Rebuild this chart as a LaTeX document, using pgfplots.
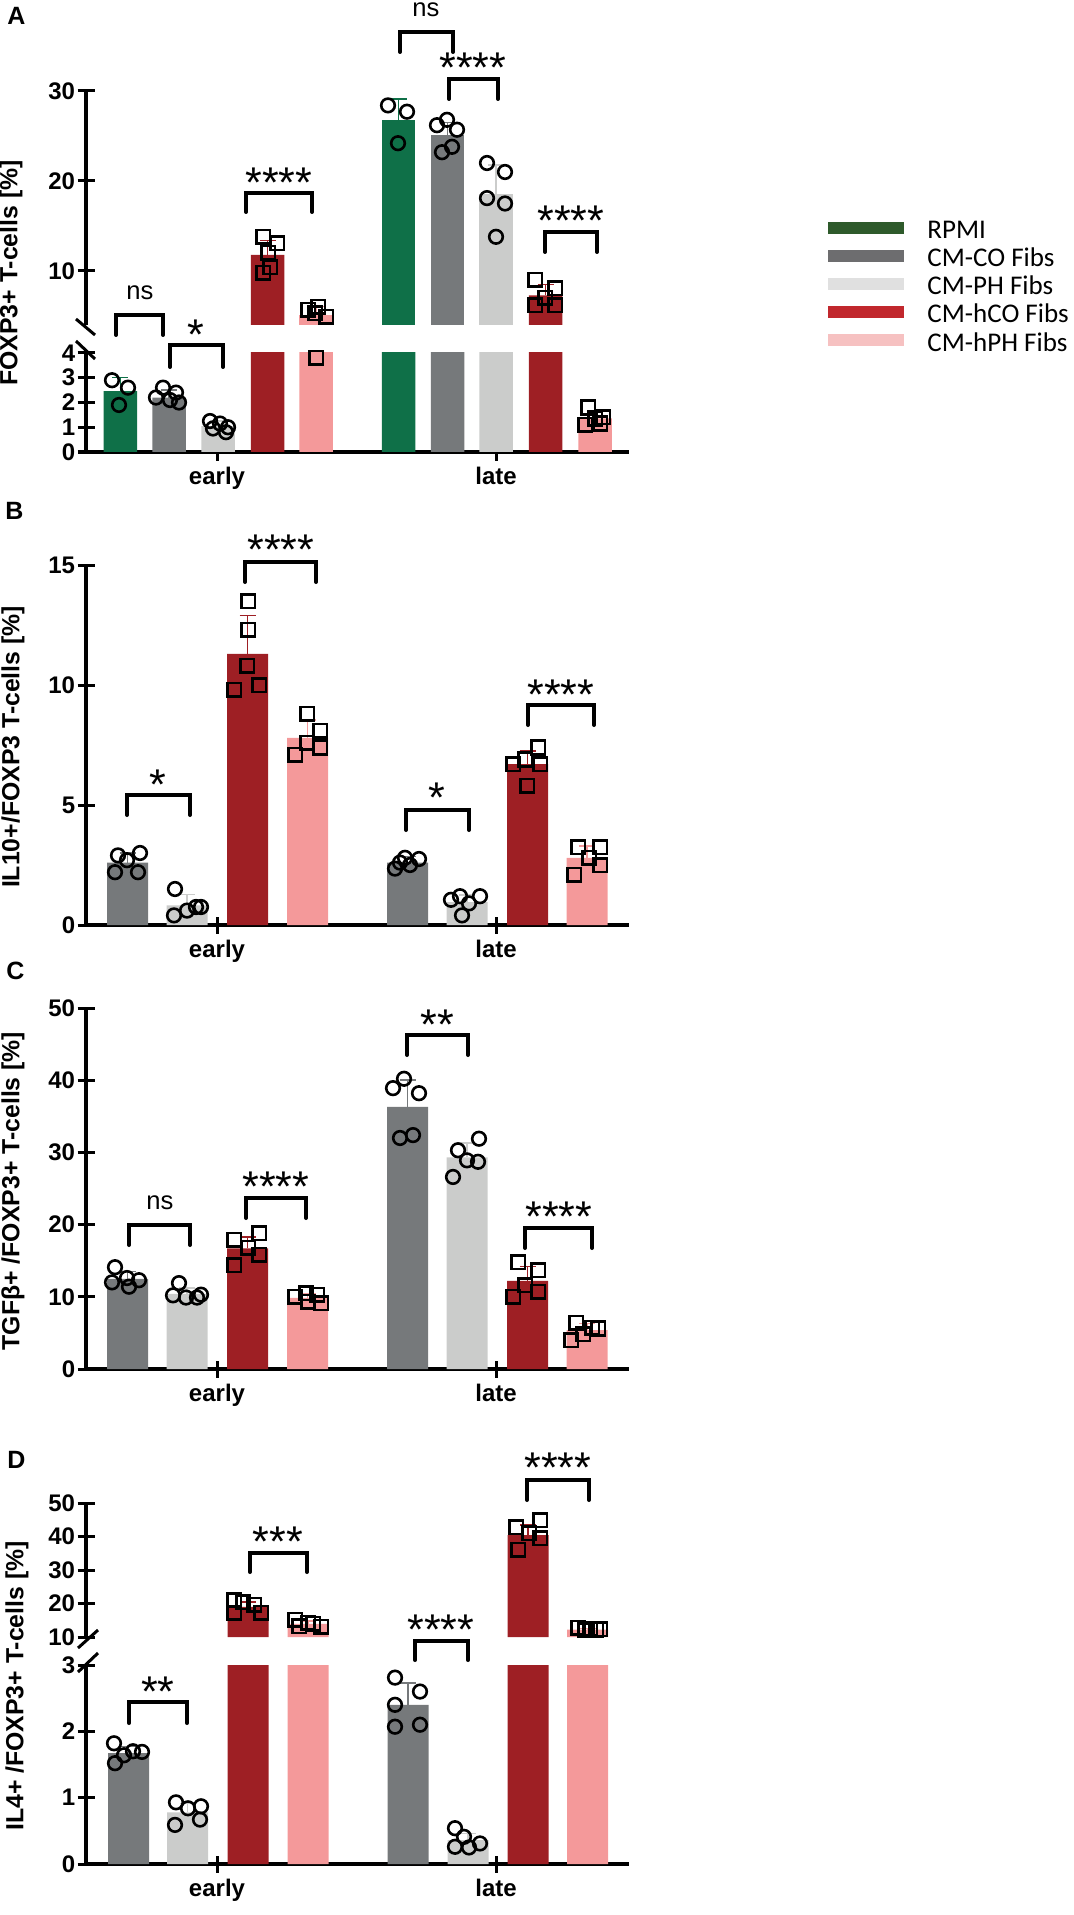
\documentclass[border=0pt]{standalone}
\usepackage{pgfplots}
\pgfplotsset{compat=1.18}
\usepackage{fontspec}
\setmainfont{Liberation Sans}
\newfontfamily\legfont{Carlito}

\definecolor{cG}{HTML}{0F7048}
\definecolor{cCO}{HTML}{76797B}
\definecolor{cPH}{HTML}{CBCCCB}
\definecolor{cHC}{HTML}{9E1F24}
\definecolor{cHP}{HTML}{F4999A}
\definecolor{lG}{HTML}{2E5A2B}
\definecolor{lCO}{HTML}{6D6D6F}
\definecolor{lPH}{HTML}{E0E0E0}
\definecolor{lHC}{HTML}{C1272D}
\definecolor{lHP}{HTML}{F6C1C1}

\pgfplotsset{
 base/.style={scale only axis, width=271.5pt, xmin=86, xmax=629, enlargelimits=false,
   tick align=outside, major tick length=8.5pt,
   every tick/.style={line width=1.5pt, black},
   tick label style={font=\bfseries\fontsize{12}{14}\selectfont},
   /pgf/number format/assume math mode=true,
   yticklabel style={inner sep=1pt},
 },
 nolinearrows/.style={
   axis line style={line width=1.75pt},
   every outer x axis line/.append style={-},
   every outer y axis line/.append style={-},
   every inner x axis line/.append style={-},
   every inner y axis line/.append style={-},
   x axis line style={-}, y axis line style={-},
 },
 upper/.style={base, axis y line=left, axis x line=none, xtick=\empty, nolinearrows},
 lower/.style={base, axis y line=left, axis x line=bottom, xtick={217,496}, xticklabels={early,late}, nolinearrows},
 bar/.style={ybar, bar shift=0pt, draw=none, fill=#1},
 errb/.style={/pgfplots/error bars/y dir=plus, /pgfplots/error bars/y explicit,
   /pgfplots/error bars/error bar style={line width=0.75pt,color=#1},
   /pgfplots/error bars/error mark options={rotate=90, mark size=4pt, line width=0.75pt, color=#1}},
 circ/.style={black, only marks, mark=o, mark size=3.4pt, mark options={line width=1.3pt, draw=black}},
 sq/.style={black, only marks, mark=square, mark size=3.4pt, mark options={line width=1.3pt, draw=black}},
}

\newcommand{\brk}[4]{\draw[line width=2pt, line cap=round] (#1,#4) -- (#1,#3) -- (#2,#3) -- (#2,#4);}
\newcommand{\st}[3]{\node[font=\fontsize{21.5}{22}\selectfont, anchor=base, inner sep=0] at (#1,{#2+24.7}) {#3};}
\newcommand{\ns}[2]{\node[font=\fontsize{12.8}{14}\selectfont, anchor=base, inner sep=0] at (#1,{#2+6.7}) {ns};}

\begin{document}
\begin{tikzpicture}
\path[use as bounding box] (0pt,0pt) rectangle (536.5pt,-957.5pt);

% ---------------- Panel A upper (only values above the break)
\begin{axis}[upper, at={(43pt,-162.5pt)}, height=117pt, ymin=4, ymax=30, ytick={10,20,30}, bar width=33.5]
\addplot[bar=cG, errb=cG] coordinates {(398.5,26.8) +- (0,2.3)};
\addplot[bar=cCO, errb=cCO] coordinates {(447.5,25.1) +- (0,1.4)};
\addplot[bar=cPH, errb=cPH] coordinates {(496,18.6) +- (0,3.2)};
\addplot[bar=cHC, errb=cHC] coordinates {(267.5,11.8) +- (0,1.6) (545.5,7.3) +- (0,1.2)};
\addplot[bar=cHP, errb=cHP] coordinates {(316,5.14) +- (0,0.9)};
\addplot[sq] coordinates {(263,13.8) (277,13.1) (268,12.0) (270,10.4) (263,9.8)
  (308,5.7) (318,6.0) (326,4.9) (315,5.3)
  (535,9.0) (555,8.1) (535,6.2) (555,6.2) (545,7.0)};
\addplot[circ] coordinates {(388,28.4) (407,27.7) (398,24.2)
  (437,26.2) (447,26.8) (457,25.7) (452,23.8) (442,23.2)
  (487,22.0) (505,21.0) (487,18.1) (505,17.5) (496,13.8)};
\end{axis}

% ---------------- Panel A lower
\begin{axis}[lower, at={(43pt,-226pt)}, height=49.5pt, ymin=0, ymax=4, ytick={0,1,2,3,4}, bar width=33.5]
\addplot[bar=cG, errb=cG] coordinates {(120.3,2.46) +- (0,0.55) (398.5,26.8) +- (0,2.3)};
\addplot[bar=cCO, errb=cCO] coordinates {(169,2.2) +- (0,0.3) (447.5,25.1) +- (0,1.4)};
\addplot[bar=cPH, errb=cPH] coordinates {(218,1.05) +- (0,0.2) (496,18.6) +- (0,3.2)};
\addplot[bar=cHC, errb=cHC] coordinates {(267.5,11.8) +- (0,1.6) (545.5,7.3) +- (0,1.2)};
\addplot[bar=cHP, errb=cHP] coordinates {(316,5.14) +- (0,0.9) (595,1.36) +- (0,0.3)};
\addplot[circ] coordinates {(112,2.9) (128,2.6) (119,1.9)
  (163,2.6) (176,2.4) (156,2.2) (170,2.1) (179,2.0)
  (210,1.25) (220,1.15) (228,1.0) (213,0.95) (226,0.8)};
\addplot[sq] coordinates {(316,3.8) (588,1.8) (603,1.4) (595,1.35) (585,1.1) (600,1.15)};
\end{axis}

% ---------------- Panel B
\begin{axis}[lower, at={(43pt,-462.5pt)}, height=180pt, ymin=0, ymax=15, ytick={0,5,10,15}, bar width=41]
\addplot[bar=cCO, errb=cCO] coordinates {(127.5,2.6) +- (0,0.4) (407.5,2.6) +- (0,0.25)};
\addplot[bar=cPH, errb=cPH] coordinates {(187,0.82) +- (0,0.45) (467,0.95) +- (0,0.3)};
\addplot[bar=cHC, errb=cHC] coordinates {(247.5,11.3) +- (0,1.6) (527.5,6.7) +- (0,0.55)};
\addplot[bar=cHP, errb=cHP] coordinates {(307.5,7.8) +- (0,0.75) (587,2.8) +- (0,0.5)};
\addplot[circ] coordinates {(118,2.9) (140,3.0) (115,2.2) (138,2.2) (127,2.7)
  (175,1.5) (196,0.75) (187,0.6) (174,0.4) (201,0.75)
  (395,2.35) (405,2.8) (419,2.75) (410,2.5) (400,2.6)
  (460,1.2) (480,1.2) (451,1.05) (469,0.9) (462,0.4)};
\addplot[sq] coordinates {(248,13.5) (248,12.3) (247,10.8) (234,9.8) (259,10.0)
  (307,8.8) (320,8.1) (307,7.6) (320,7.4) (295,7.1)
  (513,6.7) (538,7.4) (540,6.7) (527,5.8) (525,6.9)
  (578,3.25) (600,3.25) (589,2.8) (600,2.5) (574,2.1)};
\end{axis}

% ---------------- Panel C
\begin{axis}[lower, at={(43pt,-684.5pt)}, height=180.5pt, ymin=0, ymax=50, ytick={0,10,20,30,40,50}, bar width=41]
\addplot[bar=cCO, errb=cCO] coordinates {(127.5,12.5) +- (0,1.0) (407.5,36.3) +- (0,3.7)};
\addplot[bar=cPH, errb=cPH] coordinates {(187,10.4) +- (0,0.8) (467,29.3) +- (0,2.0)};
\addplot[bar=cHC, errb=cHC] coordinates {(247.5,16.7) +- (0,1.6) (527.5,12.2) +- (0,2.0)};
\addplot[bar=cHP, errb=cHP] coordinates {(307.5,9.85) +- (0,0.6) (587,5.4) +- (0,0.9)};
\addplot[circ] coordinates {(115,14.1) (112,12.0) (127,12.6) (139,12.3) (129,11.4)
  (179,11.9) (173,10.2) (186,9.9) (197,9.9) (201,10.3)
  (404,40.2) (393,38.9) (419,38.2) (400,32.0) (413,32.4)
  (479,31.9) (458,30.3) (478,28.7) (453,26.6) (467,28.9)};
\addplot[sq] coordinates {(234,17.9) (259,18.8) (259,15.8) (234,14.4) (248,16.8)
  (295,10.0) (306,10.5) (317,10.3) (321,9.1) (308,9.3)
  (518,14.8) (538,13.7) (525,11.6) (538,10.7) (513,10.0)
  (576,6.4) (592,5.7) (583,4.8) (571,4.0) (598,5.6)};
\end{axis}

% ---------------- Panel D upper (only values above the break)
\begin{axis}[upper, at={(43pt,-818.5pt)}, height=67pt, ymin=10, ymax=50, ytick={10,20,30,40,50}, bar width=41]
\addplot[bar=cHC, errb=cHC] coordinates {(248,19.0) +- (0,1.5) (528,40.4) +- (0,3.0)};
\addplot[bar=cHP, errb=cHP] coordinates {(308,13.9) +- (0,0.9) (587.5,12.2) +- (0,0.4)};
\addplot[sq] coordinates {(234,21.0) (243,20.4) (254,19.6) (261,17.2) (234,17.2)
  (295,15.1) (308,14.2) (321,13.0) (299,13.2) (313,14.0)
  (540,44.9) (516,42.8) (540,39.5) (518,36.0) (529,41.0)
  (578,12.8) (590,12.5) (600,12.3) (585,12.0) (596,12.2)};
\end{axis}

% ---------------- Panel D lower
\begin{axis}[lower, at={(43pt,-932pt)}, height=99.5pt, ymin=0, ymax=3, ytick={0,1,2,3}, bar width=41]
\addplot[bar=cCO, errb=cCO] coordinates {(128.5,1.67) +- (0,0.1) (408,2.4) +- (0,0.33)};
\addplot[bar=cPH, errb=cPH] coordinates {(187.5,0.78) +- (0,0.13) (468,0.36) +- (0,0.1)};
\addplot[bar=cHC, errb=cHC] coordinates {(248,19.0) +- (0,1.5) (528,40.4) +- (0,3.0)};
\addplot[bar=cHP, errb=cHP] coordinates {(308,13.9) +- (0,0.9) (587.5,12.2) +- (0,0.4)};
\addplot[circ] coordinates {(114,1.82) (133,1.70) (142,1.69) (115,1.52) (124,1.64)
  (176,0.93) (201,0.87) (188,0.84) (200,0.67) (175,0.59)
  (395,2.81) (420,2.6) (395,2.4) (395,2.07) (420,2.1)
  (455,0.54) (464,0.41) (480,0.31) (455,0.26) (469,0.25)};
\end{axis}

% ---------------- decorations (pixel coordinates)
\begin{scope}[x=0.5pt, y=-0.5pt]
% panel letters
\foreach \L/\xx/\yy in {A/7/25, B/5/519, C/6/979, D/7/1468}
  \node[anchor=base west, inner sep=0, font=\bfseries\fontsize{12.5}{14}\selectfont] at (\xx,\yy) {\L};
% y labels
\node[rotate=90, font=\bfseries\fontsize{12.4}{14}\selectfont] at (11,273) {FOXP3+ T-cells [\%]};
\node[rotate=90, font=\bfseries\fontsize{12.4}{14}\selectfont] at (13,747) {IL10+/FOXP3 T-cells [\%]};
\node[rotate=90, font=\bfseries\fontsize{12.4}{14}\selectfont] at (13,1191) {TGFβ+ /FOXP3+ T-cells [\%]};
\node[rotate=90, font=\bfseries\fontsize{12.4}{14}\selectfont] at (17,1686) {IL4+ /FOXP3+ T-cells [\%]};
% axis breaks
\draw[line width=1.5pt] (76,319) -- (95,335);
\draw[line width=1.5pt] (76,341) -- (95,359);
\draw[line width=1.5pt] (78,1648) -- (98,1630);
\draw[line width=1.5pt] (78,1672) -- (98,1653);
% brackets A
\brk{116}{163}{315}{335} \ns{140}{293}
\brk{170}{223}{345}{367} \st{196}{325}{*}
\brk{246}{312}{193}{212} \st{279}{173}{****}
\brk{400}{453}{32}{52} \ns{426}{10}
\brk{449}{498}{79}{99} \st{473}{58}{****}
\brk{545}{597}{232}{252} \st{571}{211}{****}
% brackets B
\brk{127}{190}{795}{815} \st{158}{775}{*}
\brk{245}{316}{562}{582} \st{281}{540}{****}
\brk{406}{469}{810}{830} \st{437}{788}{*}
\brk{528}{594}{705}{725} \st{561}{685}{****}
% brackets C
\brk{129}{190}{1225}{1245} \ns{160}{1203}
\brk{246}{306}{1198}{1218} \st{276}{1177}{****}
\brk{407}{468}{1035}{1055} \st{437}{1015}{**}
\brk{525}{592}{1228}{1248} \st{559}{1207}{****}
% brackets D
\brk{129}{187}{1702}{1723} \st{158}{1682}{**}
\brk{250}{307}{1553}{1572} \st{278}{1532}{***}
\brk{415}{468}{1641}{1660} \st{441}{1620}{****}
\brk{527}{589}{1480}{1500} \st{558}{1458}{****}
% legend
\foreach \c/\yy/\t in {lG/228/RPMI, lCO/256/CM-CO Fibs, lPH/284/CM-PH Fibs, lHC/312/CM-hCO Fibs, lHP/340/CM-hPH Fibs}{
  \fill[\c] (828,\yy-6) rectangle (904,\yy+6);
  \node[anchor=base west, inner sep=0, font=\legfont\fontsize{13.5}{15}\selectfont] at (927,\yy+11) {\t};
}
\end{scope}
\end{tikzpicture}
\end{document}
